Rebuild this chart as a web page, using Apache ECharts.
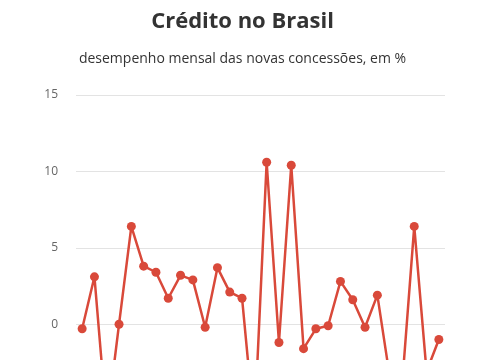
<!DOCTYPE html>
<html>
<head>
<meta charset="utf-8">
<script src="https://cdn.jsdelivr.net/npm/echarts@6/dist/echarts.min.js"></script>
<style>
html,body{margin:0;padding:0;background:#fff;overflow:hidden;}
#c{width:485px;height:500px;}
</style>
</head>
<body>
<div id="c"></div>
<script>
const title = "Crédito no Brasil";
const subtitle = "desempenho mensal das novas concessões, em %";
const months = ["jan/15","fev/15","mar/15","abr/15","mai/15","jun/15","jul/15","ago/15","set/15","out/15","nov/15","dez/15",
  "jan/16","fev/16","mar/16","abr/16","mai/16","jun/16","jul/16","ago/16","set/16","out/16","nov/16","dez/16",
  "jan/17","fev/17","mar/17","abr/17","mai/17","jun/17"];
const values = [-0.3, 3.1, -6.5, 0.0, 6.4, 3.8, 3.4, 1.7, 3.2, 2.9, -0.2, 3.7, 2.1, 1.7, -6.8,
  10.6, -1.2, 10.4, -1.6, -0.3, -0.1, 2.8, 1.6, -0.2, 1.9, -3.4, -4.1, 6.4, -3.1, -1.0];
const yTicks = {min: -10, max: 15, interval: 5};

const chart = echarts.init(document.getElementById('c'));
chart.setOption({
  animation: false,
  backgroundColor: '#fff',
  title: [
    {text: title, left: 'center', top: 6,
     textStyle: {fontFamily: 'Open Sans', fontWeight: 'bold', fontSize: 22, color: '#333'}},
    {text: subtitle, left: 'center', top: 47,
     textStyle: {fontFamily: 'Open Sans', fontWeight: 'normal', fontSize: 14, color: '#333'}}
  ],
  grid: {left: 76, right: 40, top: 95, bottom: 23},
  xAxis: {
    type: 'category', data: months, boundaryGap: true,
    axisLine: {show: false}, axisTick: {show: false},
    axisLabel: {fontFamily: 'Open Sans', fontSize: 11, color: '#666'}
  },
  yAxis: {
    type: 'value', min: yTicks.min, max: yTicks.max, interval: yTicks.interval,
    axisLine: {show: false}, axisTick: {show: false},
    axisLabel: {fontFamily: 'Open Sans', fontSize: 12, color: '#666', margin: 18},
    splitLine: {lineStyle: {color: '#e3e3e3', width: 1}}
  },
  series: [{
    type: 'line', data: values,
    symbol: 'circle', symbolSize: 9, showAllSymbol: true,
    lineStyle: {color: '#d9493a', width: 2.5},
    itemStyle: {color: '#d9493a'}
  }]
});
</script>
</body>
</html>
